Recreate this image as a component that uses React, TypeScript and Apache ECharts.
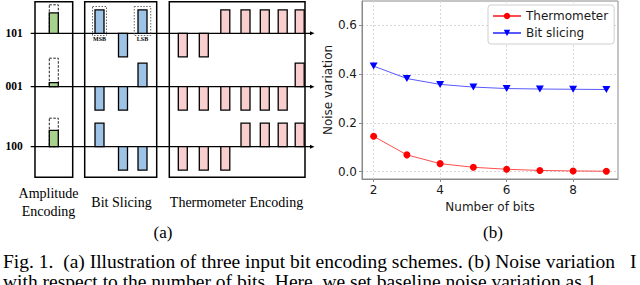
import React, { useEffect, useRef } from 'react';
import * as echarts from 'echarts';

// ---------- data: panel (b) ----------
const bitCounts = [2, 3, 4, 5, 6, 7, 8, 9];
const thermometerNoise = [0.145, 0.069, 0.033, 0.018, 0.010, 0.005, 0.003, 0.002];
const bitSlicingNoise = [0.433, 0.382, 0.358, 0.347, 0.341, 0.339, 0.338, 0.337];
const xTicks = [2, 4, 6, 8];
const yTicks = [0, 0.2, 0.4, 0.6];
const seriesNames = ['Thermometer', 'Bit slicing'];

// ---------- data: panel (a) ----------
const rowCodes = ['101', '001', '100'];
const amplitudeLevels = [5, 1, 4];
const amplitudeMax = 7;
const bitSlices = [
  [1, 0, 1],
  [0, 0, 1],
  [1, 0, 0],
];
const thermoCodes = [
  [0, 0, 1, 1, 1, 1, 1],
  [0, 0, 0, 0, 0, 0, 1],
  [0, 0, 0, 1, 1, 1, 1],
];
const panelTitles = ['Amplitude\nEncoding', 'Bit Slicing', 'Thermometer Encoding'];
const captionLines = [
  'Fig. 1.  (a) Illustration of three input bit encoding schemes. (b) Noise variation',
  'with respect to the number of bits. Here, we set baseline noise variation as 1.',
];

// ---------- layout (positions / sizes / styles) ----------
const ROW_Y = [33.3, 86.7, 146.7];
const AMP_X = 53.8;
const BIT_X = [99.5, 123, 142.5];
const THERMO_X = [182.8, 203.8, 225.3, 245.5, 264.8, 282.7, 299.7];
const BAR_W = 9;
const BAR_H = 23.5;
const AMP_FULL = 28.5;
const PANELS = [
  [35, 1.7, 72.7, 177.3],
  [84.7, 1.7, 156.7, 177.3],
  [169.3, 1.7, 305, 177.3],
];
const PANEL_TITLE_POS = [
  [48.5, 202],
  [121.5, 202.5],
  [236.5, 202.5],
];
const GREEN = '#a9d18e';
const BLUE = '#9dc3e6';
const PINK = '#f9cece';
const SERIF = '"Liberation Serif", "Times New Roman", serif';
const SANS = '"DejaVu Sans", sans-serif';
const TXT = '#1a1a1a';

function barRect(api: any, cx: number, base: number, up: boolean, fill: string) {
  const y0 = up ? base - BAR_H : base;
  const tl = api.coord([cx - BAR_W / 2, y0]);
  const br = api.coord([cx + BAR_W / 2, y0 + BAR_H]);
  return {
    type: 'rect',
    shape: { x: tl[0], y: tl[1], width: br[0] - tl[0], height: br[1] - tl[1] },
    style: { fill, stroke: '#000', lineWidth: 1.3 },
  };
}

function buildOption() {
  const bitData: number[][] = [];
  bitSlices.forEach((bits, r) => bits.forEach((b, c) => bitData.push([r, c, b])));
  const thermoData: number[][] = [];
  thermoCodes.forEach((bits, r) => bits.forEach((b, c) => thermoData.push([r, c, b])));
  const ampData = amplitudeLevels.map((lv, r) => [r, lv]);

  const graphics: any[] = [];
  PANELS.forEach(([x0, y0, x1, y1]) => {
    graphics.push({
      type: 'rect',
      shape: { x: x0, y: y0, width: x1 - x0, height: y1 - y0 },
      style: { fill: 'none', stroke: '#000', lineWidth: 1.5 },
      z: 1,
    });
  });
  ROW_Y.forEach((y, i) => {
    graphics.push({
      type: 'line',
      shape: { x1: 30.7, y1: y, x2: 312, y2: y },
      style: { stroke: '#000', lineWidth: 1.3 },
      z: 1,
    });
    graphics.push({
      type: 'polygon',
      shape: { points: [[310, y - 2], [314.5, y], [310, y + 2]] },
      style: { fill: '#000' },
      z: 1,
    });
    graphics.push({
      type: 'text',
      x: 14,
      y: y - 0.8,
      style: {
        text: rowCodes[i],
        font: `bold 11.5px ${SERIF}`,
        fill: '#000',
        align: 'center',
        verticalAlign: 'middle',
      },
      z: 1,
    });
  });
  [
    [BIT_X[0], 14, 'MSB'],
    [BIT_X[2], 16.5, 'LSB'],
  ].forEach(([cx, w, label]: any) => {
    graphics.push({
      type: 'rect',
      shape: { x: cx - w / 2, y: 6.5, width: w, height: 29 },
      style: { fill: 'none', stroke: '#555', lineWidth: 0.9, lineDash: [1.5, 1.5] },
      z: 3,
    });
    graphics.push({
      type: 'text',
      x: cx,
      y: 38.8,
      style: {
        text: label,
        font: `bold 6px ${SERIF}`,
        fill: '#000',
        align: 'center',
        verticalAlign: 'middle',
      },
      z: 3,
    });
  });
  panelTitles.forEach((t, i) => {
    graphics.push({
      type: 'text',
      x: PANEL_TITLE_POS[i][0],
      y: PANEL_TITLE_POS[i][1],
      style: {
        text: t,
        font: `14px ${SERIF}`,
        lineHeight: 18,
        fill: '#000',
        align: 'center',
        verticalAlign: 'middle',
      },
    });
  });
  [
    ['(a)', 163],
    ['(b)', 493],
  ].forEach(([t, x]: any) => {
    graphics.push({
      type: 'text',
      x,
      y: 232,
      style: { text: t, font: `17px ${SERIF}`, fill: '#000', align: 'center', verticalAlign: 'middle' },
    });
  });
  captionLines.forEach((t, i) => {
    graphics.push({
      type: 'text',
      x: 3,
      y: 261 + i * 20.5,
      style: { text: t, font: `19.5px ${SERIF}`, fill: '#000', align: 'left', verticalAlign: 'middle' },
    });
  });
  graphics.push({
    type: 'text',
    x: 630,
    y: 261,
    style: { text: 'I', font: `19.5px ${SERIF}`, fill: '#000', align: 'left', verticalAlign: 'middle' },
  });

  return {
    animation: false,
    backgroundColor: '#ffffff',
    grid: [
      {
        left: 362,
        top: 1,
        width: 256,
        height: 178,
        show: true,
        borderColor: '#8a8a8a',
        borderWidth: 1,
        backgroundColor: 'transparent',
      },
      { left: 0, top: 0, width: 320, height: 180, show: false },
    ],
    xAxis: [
      {
        gridIndex: 0,
        type: 'value',
        min: 1.65,
        max: 9.35,
        name: 'Number of bits',
        nameLocation: 'middle',
        nameGap: 17,
        nameTextStyle: { fontFamily: SANS, fontSize: 12, color: TXT },
        axisLine: { show: true, onZero: false, lineStyle: { color: '#8a8a8a' } },
        axisTick: { show: true, length: 3, customValues: xTicks, lineStyle: { color: '#8a8a8a' } },
        axisLabel: { customValues: xTicks, margin: 5, fontFamily: SANS, fontSize: 12, color: TXT },
        splitLine: { show: true, lineStyle: { color: '#d6d6d6', type: [2, 2], width: 1 } },
      },
      { gridIndex: 1, type: 'value', min: 0, max: 320, show: false },
    ],
    yAxis: [
      {
        gridIndex: 0,
        type: 'value',
        min: -0.03,
        max: 0.7,
        name: 'Noise variation',
        nameLocation: 'middle',
        nameGap: 28,
        nameRotate: 90,
        nameTextStyle: { fontFamily: SANS, fontSize: 12, color: TXT },
        axisLine: { show: true, onZero: false, lineStyle: { color: '#8a8a8a' } },
        axisTick: { show: true, length: 3, customValues: yTicks, lineStyle: { color: '#8a8a8a' } },
        axisLabel: {
          customValues: yTicks,
          margin: 5,
          fontFamily: SANS,
          fontSize: 12,
          color: TXT,
          formatter: (v: number) => v.toFixed(1),
        },
        splitLine: { show: true, lineStyle: { color: '#d6d6d6', type: [2, 2], width: 1 } },
      },
      { gridIndex: 1, type: 'value', min: 0, max: 180, inverse: true, show: false },
    ],
    legend: {
      data: seriesNames,
      orient: 'vertical',
      left: 488,
      top: 5,
      padding: [5, 6, 5, 4],
      itemWidth: 28,
      itemHeight: 8,
      itemGap: 5,
      backgroundColor: '#ffffff',
      borderColor: '#cfcfcf',
      borderWidth: 1,
      borderRadius: 3,
      textStyle: { fontFamily: SANS, fontSize: 12, color: TXT },
    },
    series: [
      {
        name: seriesNames[0],
        type: 'line',
        xAxisIndex: 0,
        yAxisIndex: 0,
        data: bitCounts.map((b, i) => [b, thermometerNoise[i]]),
        symbol: 'circle',
        symbolSize: 7,
        color: '#ff0000',
        itemStyle: { color: '#ff0000' },
        lineStyle: { color: 'rgba(255,0,0,0.7)', width: 1 },
        z: 3,
      },
      {
        name: seriesNames[1],
        type: 'line',
        xAxisIndex: 0,
        yAxisIndex: 0,
        data: bitCounts.map((b, i) => [b, bitSlicingNoise[i]]),
        symbol: 'path://M0,0L10,0L5,9Z',
        symbolSize: [8, 7],
        color: '#0000ff',
        itemStyle: { color: '#0000ff' },
        lineStyle: { color: 'rgba(0,0,255,0.65)', width: 1 },
        z: 3,
      },
      {
        name: 'amplitude',
        type: 'custom',
        xAxisIndex: 1,
        yAxisIndex: 1,
        data: ampData,
        z: 2,
        renderItem: (_p: any, api: any) => {
          const row = api.value(0);
          const lv = api.value(1);
          const base = ROW_Y[row];
          const fullTop = api.coord([AMP_X - BAR_W / 2, base - AMP_FULL]);
          const barTop = api.coord([AMP_X - BAR_W / 2, base - (AMP_FULL * lv) / amplitudeMax]);
          const br = api.coord([AMP_X + BAR_W / 2, base]);
          return {
            type: 'group',
            children: [
              {
                type: 'rect',
                shape: { x: fullTop[0], y: fullTop[1], width: br[0] - fullTop[0], height: br[1] - fullTop[1] },
                style: { fill: 'none', stroke: '#222', lineWidth: 1, lineDash: [2.5, 1.5] },
              },
              {
                type: 'rect',
                shape: { x: barTop[0], y: barTop[1], width: br[0] - barTop[0], height: br[1] - barTop[1] },
                style: { fill: GREEN, stroke: '#000', lineWidth: 1.3 },
              },
            ],
          };
        },
      },
      {
        name: 'bitslicing',
        type: 'custom',
        xAxisIndex: 1,
        yAxisIndex: 1,
        data: bitData,
        z: 2,
        renderItem: (_p: any, api: any) =>
          barRect(api, BIT_X[api.value(1)], ROW_Y[api.value(0)], api.value(2) === 1, BLUE),
      },
      {
        name: 'thermometer',
        type: 'custom',
        xAxisIndex: 1,
        yAxisIndex: 1,
        data: thermoData,
        z: 2,
        renderItem: (_p: any, api: any) =>
          barRect(api, THERMO_X[api.value(1)], ROW_Y[api.value(0)], api.value(2) === 1, PINK),
      },
    ],
    graphic: graphics,
  };
}

export default function App() {
  const ref = useRef<HTMLDivElement>(null);
  useEffect(() => {
    if (!ref.current) return;
    const chart = echarts.init(ref.current, null, { renderer: 'svg' });
    chart.setOption(buildOption() as any);
    return () => chart.dispose();
  }, []);
  return (
    <div
      ref={ref}
      style={{ position: 'fixed', left: 0, top: 0, width: 640, height: 285, background: '#fff' }}
    />
  );
}
